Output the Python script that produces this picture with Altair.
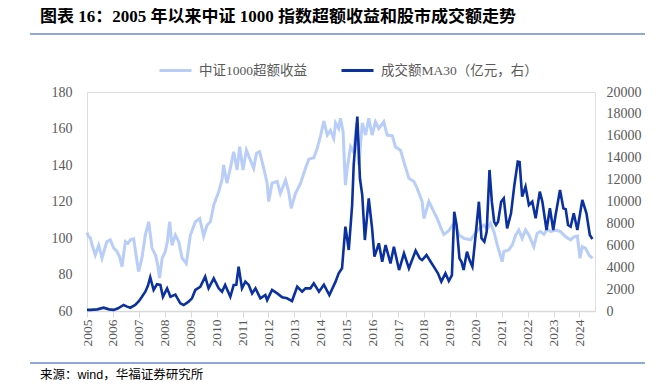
import altair as alt
import pandas as pd

# ---- data ----
excess_t = [2005.00, 2005.05, 2005.13, 2005.20, 2005.32, 2005.45, 2005.58, 2005.68, 2005.77, 2005.90,
            2006.03, 2006.16, 2006.25, 2006.35, 2006.48, 2006.58, 2006.67, 2006.80, 2006.90, 2006.99,
            2007.12, 2007.25, 2007.38, 2007.51, 2007.64, 2007.72, 2007.80, 2007.90, 2008.02, 2008.10,
            2008.19, 2008.28, 2008.41, 2008.54, 2008.67, 2008.83, 2008.99, 2009.18, 2009.35, 2009.50,
            2009.63, 2009.76, 2009.89, 2010.08, 2010.21, 2010.27, 2010.40, 2010.53, 2010.66, 2010.79,
            2010.89, 2011.02, 2011.15, 2011.30, 2011.43, 2011.54, 2011.66, 2011.82, 2011.95, 2012.01,
            2012.14, 2012.34, 2012.46, 2012.66, 2012.78, 2012.88, 2013.04, 2013.24, 2013.43, 2013.56,
            2013.75, 2013.88, 2014.01, 2014.14, 2014.27, 2014.39, 2014.52, 2014.59, 2014.71, 2014.78,
            2014.88, 2014.97, 2015.04, 2015.17, 2015.29, 2015.40, 2015.49, 2015.62, 2015.75, 2015.87,
            2016.00, 2016.13, 2016.26, 2016.45, 2016.58, 2016.78, 2016.90, 2017.10, 2017.22, 2017.42,
            2017.61, 2017.74, 2017.93, 2018.00, 2018.19, 2018.38, 2018.51, 2018.64, 2018.77, 2018.96,
            2019.10, 2019.22, 2019.35, 2019.54, 2019.80, 2019.93, 2020.12, 2020.31, 2020.44, 2020.57,
            2020.70, 2020.83, 2021.02, 2021.08, 2021.28, 2021.41, 2021.54, 2021.66, 2021.79, 2021.92,
            2022.05, 2022.24, 2022.37, 2022.50, 2022.63, 2022.76, 2022.89, 2023.08, 2023.27, 2023.47,
            2023.66, 2023.79, 2023.92, 2024.02, 2024.11, 2024.24, 2024.37, 2024.50]
excess_v = [103, 101, 100, 96, 90.7, 96, 89, 94, 98, 99,
            94.5, 92.5, 90, 84.3, 98, 97, 99, 99.5, 90, 81.6,
            89, 101.6, 108.9, 94.5, 90.7, 86, 78, 89, 92.5, 98,
            108.9, 96, 101.6, 98, 89, 86, 101.6, 108.9, 110.7, 101,
            107, 108.9, 118, 125.4, 131.8, 140, 130, 138.2, 147.3, 137.3,
            150, 137.3, 148.2, 142.7, 138.2, 146.4, 147.3, 138.2, 130, 120,
            130, 131, 124.4, 131.7, 125.4, 116.3, 124.4, 130, 138.2, 143.2,
            144, 149, 156, 164, 156.4, 159, 154.6, 163, 160, 165.6,
            158.3, 129, 138.2, 150, 147, 163, 140, 163, 156.4, 165.6,
            156.4, 163.7, 160, 163.7, 156.4, 156, 150, 148, 142, 132.7,
            131, 127.2, 120, 110.7, 120, 114.4, 110.7, 106, 102, 104,
            107, 107, 101.6, 99.8, 99, 101.6, 105, 107, 105, 108,
            103.5, 96.2, 87, 92.5, 93.5, 96.2, 101.6, 104.4, 99.8, 104.4,
            101.6, 95.2, 102.6, 103.5, 102, 105, 103.5, 104.4, 103.5, 100.6,
            99, 100.6, 101, 88.9, 95.2, 94.3, 90.7, 88.9]

turnover_t = [2005.00, 2005.13, 2005.40, 2005.64, 2005.85, 2006.03, 2006.20, 2006.41, 2006.55, 2006.67,
              2006.86, 2007.00, 2007.12, 2007.25, 2007.35, 2007.44, 2007.57, 2007.70, 2007.83, 2007.93,
              2008.09, 2008.22, 2008.41, 2008.60, 2008.73, 2008.92, 2009.05, 2009.18, 2009.37, 2009.56,
              2009.69, 2009.89, 2010.08, 2010.21, 2010.33, 2010.53, 2010.66, 2010.76, 2010.85, 2010.98,
              2011.11, 2011.24, 2011.37, 2011.50, 2011.69, 2011.88, 2011.95, 2012.14, 2012.34, 2012.53,
              2012.72, 2012.91, 2013.11, 2013.30, 2013.43, 2013.62, 2013.75, 2013.95, 2014.14, 2014.35,
              2014.59, 2014.71, 2014.84, 2014.97, 2015.10, 2015.23, 2015.29, 2015.43, 2015.53, 2015.62,
              2015.72, 2015.87, 2016.00, 2016.09, 2016.26, 2016.39, 2016.52, 2016.71, 2016.84, 2017.04,
              2017.23, 2017.42, 2017.68, 2017.84, 2017.93, 2018.10, 2018.26, 2018.38, 2018.54, 2018.67,
              2018.83, 2018.96, 2019.08, 2019.17, 2019.26, 2019.37, 2019.45, 2019.53, 2019.66, 2019.76,
              2019.87, 2019.97, 2020.12, 2020.22, 2020.33, 2020.42, 2020.53, 2020.62, 2020.71, 2020.78,
              2020.86, 2020.98, 2021.08, 2021.21, 2021.36, 2021.49, 2021.62, 2021.69, 2021.79, 2021.92,
              2022.05, 2022.18, 2022.31, 2022.47, 2022.57, 2022.73, 2022.86, 2022.99, 2023.08, 2023.25,
              2023.38, 2023.47, 2023.56, 2023.66, 2023.78, 2023.92, 2024.11, 2024.27, 2024.40, 2024.50]
turnover_v = [100, 100, 150, 300, 150, 100, 250, 550, 400, 300,
              550, 900, 1300, 1760, 2300, 3080, 1920, 2440, 2380, 1300,
              2070, 1300, 1500, 700, 550, 850, 1160, 1920, 2200, 3130,
              2070, 2980, 2070, 1760, 2380, 1300, 2380, 2400, 4050, 2070,
              2680, 2380, 1610, 2070, 1160, 1460, 1000, 1920, 1610, 1250,
              1160, 910, 2220, 1760, 2070, 2070, 2530, 1760, 2400, 1460,
              2680, 3440, 3900, 7700, 5570, 9680, 13330, 17750, 12120, 10590,
              6480, 10290, 7550, 4960, 6180, 4500, 6030, 4350, 5870, 3740,
              5270, 3900, 5510, 4800, 4650, 5110, 4500, 4050, 3440, 2680,
              3440, 2740, 3280, 9070, 7850, 4810, 4500, 3740, 5420, 4650,
              4050, 6330, 9980, 6640, 6330, 7240, 12880, 9980, 8150, 7850,
              8150, 9980, 10290, 7550, 8920, 11510, 13640, 13600, 10440, 11350,
              9680, 9980, 8460, 10900, 9980, 7400, 9380, 7400, 8770, 11050,
              9380, 9300, 7850, 7700, 8920, 7400, 10140, 8920, 6940, 6570]

year_ticks = list(range(2005, 2025))
left_ticks = [60, 80, 100, 120, 140, 160, 180]
right_ticks = list(range(0, 20001, 2000))
series_names = ["中证1000超额收益", "成交额MA30（亿元，右）"]
title_text = "图表 16：2005 年以来中证 1000 指数超额收益和股市成交额走势"
source_text = "来源：wind，华福证券研究所"

LIGHT = "#b8cdf8"
DARK = "#0b31a0"
RULE = "#6b8dc8"
GRAY = "#595959"
FONT = "Liberation Serif, Noto Sans CJK SC"
SANS = "Liberation Sans, Noto Sans CJK SC"

df_ex = pd.DataFrame({"t": excess_t, "v": excess_v, "s": series_names[0]})
df_to = pd.DataFrame({"t": turnover_t, "v": turnover_v, "s": series_names[1]})

color = alt.Color(
    "s:N",
    scale=alt.Scale(domain=series_names, range=[LIGHT, DARK]),
    legend=alt.Legend(
        title=None, orient="none", legendX=71, legendY=-39, direction="horizontal",
        symbolType="stroke", symbolSize=1024, symbolStrokeWidth=3,
        labelFont=FONT, labelFontSize=13.5, labelColor=GRAY, labelOffset=6,
        columnPadding=28,
    ),
)

xenc = alt.X(
    "t:Q",
    scale=alt.Scale(domain=[2005, 2024.6], nice=False, zero=False),
    axis=alt.Axis(
        title=None, values=year_ticks, format="d", labelAngle=-90, grid=False,
        domainColor="#d9d9d9", domainWidth=1.5, tickColor="#d9d9d9", tickSize=6,
        labelPadding=2, labelFont=FONT, labelFontSize=13.5, labelColor=GRAY,
        labelFlush=False, labelOverlap=False,
    ),
)

light = alt.Chart(df_ex).mark_line(strokeWidth=3, interpolate="linear").encode(
    x=xenc,
    y=alt.Y(
        "v:Q",
        scale=alt.Scale(domain=[60, 180], nice=False, zero=False),
        axis=alt.Axis(
            title=None, values=left_ticks, grid=False, domain=False, ticks=False,
            tickSize=0, labelPadding=15, labelFont=FONT, labelFontSize=14, labelColor=GRAY,
        ),
    ),
    color=color,
)

dark = alt.Chart(df_to).mark_line(strokeWidth=2.6, interpolate="linear").encode(
    x=xenc,
    y=alt.Y(
        "v:Q",
        scale=alt.Scale(domain=[0, 20000], nice=False),
        axis=alt.Axis(
            title=None, orient="right", values=right_ticks, format="d", grid=False,
            domain=False, ticks=False, tickSize=0, labelPadding=11,
            labelFont=FONT, labelFontSize=14, labelColor=GRAY,
        ),
    ),
    color=color,
)

one = pd.DataFrame({"k": [0]})
title_mark = alt.Chart(one).mark_text(
    align="left", baseline="middle", font=FONT, fontSize=17, fontWeight="bold", color="#000000"
).encode(x=alt.value(-47), y=alt.value(-75), text=alt.value(title_text))
title_rule = alt.Chart(one).mark_rule(color=RULE, strokeWidth=1.6).encode(
    x=alt.value(-57), x2=alt.value(563), y=alt.value(-58)
)
source_rule = alt.Chart(one).mark_rule(color=RULE, strokeWidth=1.6).encode(
    x=alt.value(-57), x2=alt.value(563), y=alt.value(271)
)
source_mark = alt.Chart(one).mark_text(
    align="left", baseline="middle", font=SANS, fontSize=12.5, color="#000000"
).encode(x=alt.value(-47), y=alt.value(283), text=alt.value(source_text))

chart = alt.layer(light, dark, title_mark, title_rule, source_rule, source_mark).resolve_scale(
    y="independent"
).properties(
    width=508, height=219,
    padding={"left": 79, "top": 84, "right": 50, "bottom": 72},
    autosize=alt.AutoSizeParams(type="none"),
).configure_view(stroke=None).configure(background="white")

chart.save("out.html", embed_options={"renderer": "svg", "actions": False})
